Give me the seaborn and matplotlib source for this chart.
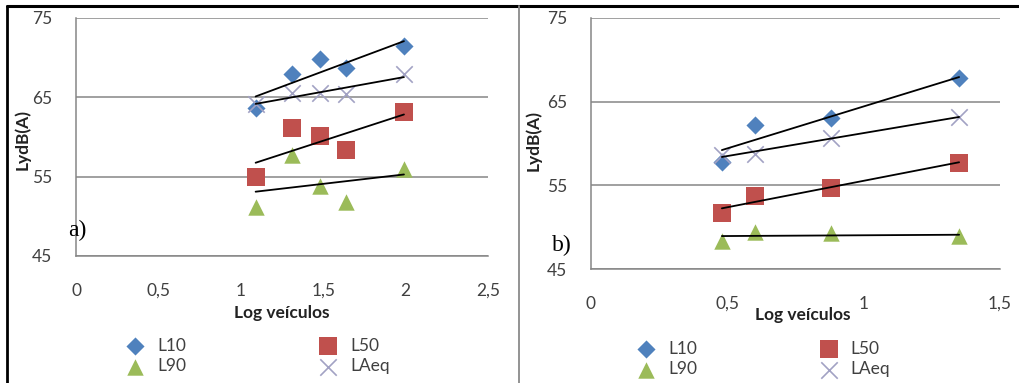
import seaborn as sns
import matplotlib.pyplot as plt
from matplotlib.lines import Line2D
from matplotlib.ticker import FuncFormatter

# valores (a) e (b)
x_a = [1.09, 1.31, 1.48, 1.64, 1.99]
L10_a = [63.6, 67.9, 69.8, 68.7, 71.5]
L50_a = [55.0, 61.1, 60.1, 58.4, 63.1]
L90_a = [51.2, 57.7, 53.8, 51.8, 56.0]
LAeq_a = [64.2, 65.5, 65.5, 65.4, 68.0]

x_b = [0.48, 0.60, 0.88, 1.35]
L10_b = [57.8, 62.2, 63.0, 67.8]
L50_b = [51.7, 53.7, 54.7, 57.7]
L90_b = [48.4, 49.4, 49.3, 48.9]
LAeq_b = [58.6, 58.8, 60.6, 63.2]

series = ["L10", "L50", "L90", "LAeq"]
cores = {"L10": "#4F81BD", "L50": "#C0504D", "L90": "#9BBB59", "LAeq": "#A2A2C4"}
marcadores = {"L10": "D", "L50": "s", "L90": "^", "LAeq": "x"}
tamanhos = {"L10": 85, "L50": 150, "L90": 140, "LAeq": 140}

sns.set_style("white")
plt.rcParams["font.family"] = ["Lato", "DejaVu Sans"]
cinza = "#868686"
texto = "#404040"

fig = plt.figure(figsize=(10.19, 3.83), dpi=100)
ax_a = fig.add_axes([76 / 1019, 127 / 383, 412 / 1019, 238 / 383])
ax_b = fig.add_axes([591 / 1019, 114 / 383, 409 / 1019, 251 / 383])

virgula = FuncFormatter(lambda v, p: ("%g" % v).replace(".", ","))


def painel(ax, x, valores, xmax, xticks, letra, pos_letra, ylab_pos, xlab_pos, leg_pos, colsp):
    for nome, y in zip(series, valores):
        sns.scatterplot(x=x, y=y, ax=ax, marker=marcadores[nome], color=cores[nome],
                        s=tamanhos[nome], linewidth=1.2 if nome == "LAeq" else 0,
                        label=nome, legend=False, zorder=3)
    for y in valores:
        sns.regplot(x=x, y=y, ax=ax, scatter=False, ci=None, truncate=True,
                    color="black", line_kws={"lw": 1.3, "zorder": 4})
    ax.set_xlim(0, xmax)
    ax.set_ylim(45, 75)
    ax.set_xticks(xticks)
    ax.set_yticks([45, 55, 65, 75])
    ax.xaxis.set_major_formatter(virgula)
    for s in ["top", "right"]:
        ax.spines[s].set_visible(False)
    for s in ["left", "bottom"]:
        ax.spines[s].set_color(cinza)
        ax.spines[s].set_linewidth(1.1)
    ax.grid(axis="y", color=cinza, lw=1.1)
    ax.grid(axis="x", visible=False)
    ax.tick_params(axis="both", direction="out", length=5, color=cinza, width=1.1,
                   labelsize=12.5, labelcolor=texto)
    ax.tick_params(axis="x", pad=14.5)
    ax.tick_params(axis="y", pad=12)
    ax.set_xlabel("Log veículos", fontsize=12.5, fontweight="bold", color="#222222")
    ax.set_ylabel("LydB(A)", fontsize=12.5, fontweight="bold", color="#222222")
    ax.xaxis.set_label_coords(*xlab_pos)
    ax.yaxis.set_label_coords(*ylab_pos)
    ax.text(pos_letra[0], pos_letra[1], letra, transform=fig.transFigure,
            family="Liberation Serif", fontsize=17, ha="center", va="center", color="black")
    h, l = ax.get_legend_handles_labels()
    ordem = [0, 2, 1, 3]
    ax.legend([h[i] for i in ordem], [l[i] for i in ordem], ncol=2, frameon=False,
              loc="center left", bbox_to_anchor=leg_pos, bbox_transform=fig.transFigure,
              fontsize=12.5, handlelength=1.0, handletextpad=0.75, columnspacing=colsp,
              labelspacing=0.25, labelcolor=texto, borderpad=0)


painel(ax_a, x_a, [L10_a, L50_a, L90_a, LAeq_a], 2.5, [0, 0.5, 1, 1.5, 2, 2.5],
       "a)", (77 / 1019, 1 - 230 / 383), (-0.109, 0.49), (0.5, -0.206),
       (118 / 1019, 1 - 356 / 383), 7.7)
painel(ax_b, x_b, [L10_b, L50_b, L90_b, LAeq_b], 1.5, [0, 0.5, 1, 1.5],
       "b)", (562 / 1019, 1 - 245 / 383), (-0.12, 0.51), (0.517, -0.151),
       (629 / 1019, 1 - 359 / 383), 7.1)

# bordas da tabela
fig.add_artist(Line2D([7 / 1019, 1], [1 - 6 / 383, 1 - 6 / 383], transform=fig.transFigure,
                      color="black", lw=2.2))
fig.add_artist(Line2D([7 / 1019, 7 / 1019], [0, 1 - 6 / 383], transform=fig.transFigure,
                      color="black", lw=2.0))
fig.add_artist(Line2D([519 / 1019, 519 / 1019], [0, 1 - 6 / 383], transform=fig.transFigure,
                      color="#8a8a8a", lw=1.3))

fig.savefig("out.png", dpi=100)
